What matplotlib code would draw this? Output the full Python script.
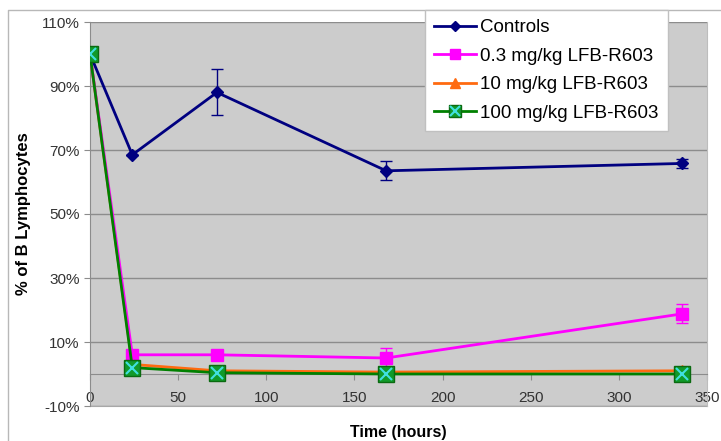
import matplotlib
matplotlib.use('Agg')
import matplotlib.pyplot as plt
from matplotlib.lines import Line2D
from matplotlib.ticker import FuncFormatter

plt.rcParams['font.family'] = ['Liberation Sans', 'DejaVu Sans']

hours = [0, 24, 72, 168, 336]

controls = [100, 68.5, 88, 63.5, 65.8]
controls_err = [0, 0, 7.2, 3, 1.5]
low_dose = [100, 6, 6, 5, 18.8]
low_dose_err = [0, 0, 1.5, 3.2, 3]
mid_dose = [100, 3, 1, 0.6, 1]
high_dose = [100, 2, 0.4, 0, 0]

labels = ['Controls', '0.3 mg/kg LFB-R603', '10 mg/kg LFB-R603', '100 mg/kg LFB-R603']

fig = plt.figure(figsize=(7.21, 4.41), dpi=100)
# thin frame round the chart (only left and top edges show)
fig.add_artist(Line2D([8 / 721, 8 / 721, 1], [0, 1 - 10 / 441, 1 - 10 / 441],
                      transform=fig.transFigure, color='#b8b8b8', lw=1))
ax = fig.add_axes([90 / 721, 1 - 406 / 441, 617 / 721, 384 / 441])
ax.set_facecolor('#cccccc')

c1 = ax.errorbar(hours, controls, yerr=controls_err, color='#000080', lw=2, marker='D', ms=6,
                 capsize=4, elinewidth=1, capthick=1, zorder=5)
c2 = ax.errorbar(hours, low_dose, yerr=low_dose_err, color='#ff00ff', lw=2, marker='s', ms=8,
                 capsize=4, elinewidth=1, capthick=1, zorder=4)
l3, = ax.plot(hours, mid_dose, color='#ff6a10', lw=2, marker='^', ms=8, zorder=3)
l4, = ax.plot(hours, high_dose, color='#008000', lw=2, marker='s', ms=11,
              markerfacecolor='#119a2a', markeredgecolor='#0a6a10', zorder=6)
x4, = ax.plot(hours, high_dose, ls='none', marker='x', ms=9, mew=1.5, color='#40e0e0', zorder=7)

ax.set_xlim(0, 350)
ax.set_ylim(-10, 110)
ax.set_yticks(range(-10, 111, 20))
ax.yaxis.set_major_formatter(FuncFormatter(lambda v, p: f'{v:.0f}%'))
ax.grid(axis='y', color='#8c8c8c', lw=1)
ax.set_axisbelow(True)

ax.spines['top'].set_visible(False)
ax.spines['right'].set_color('#bdbdbd')
ax.spines['left'].set_color('#8c8c8c')
ax.spines['bottom'].set_position(('data', 0))
ax.spines['bottom'].set_color('#8c8c8c')
ax.set_xticks(range(0, 351, 50))
ax.tick_params(axis='x', direction='out', length=4, color='#8c8c8c', labelbottom=False)
ax.tick_params(axis='y', length=4, color='#8c8c8c', labelsize=11, labelcolor='#333333')

sec = ax.secondary_xaxis(0.0)
sec.set_xticks(range(0, 351, 50))
sec.tick_params(length=0, pad=-11, labelsize=11, labelcolor='#333333')
sec.spines['bottom'].set_color('#a8a8a8')

ax.set_ylabel('% of B Lymphocytes', fontsize=12, fontweight='bold', labelpad=8)
fig.text(0.5 * (90 + 707) / 721, 1 - 432 / 441, 'Time (hours)', ha='center', va='center',
         fontsize=11.5, fontweight='bold')

handles = [c1[0], c2[0], l3, (l4, x4)]
leg = fig.legend(handles, labels, loc='upper left', bbox_to_anchor=(425 / 721, 1 - 10 / 441),
                 fontsize=13.5, frameon=True, fancybox=False, edgecolor='#c0c0c0',
                 handlelength=2.2, handletextpad=0.25, labelspacing=0.6, borderpad=0.5,
                 borderaxespad=0, framealpha=1, markerscale=0.85)
leg.get_frame().set_linewidth(1)

fig.savefig('out.png', dpi=100)
